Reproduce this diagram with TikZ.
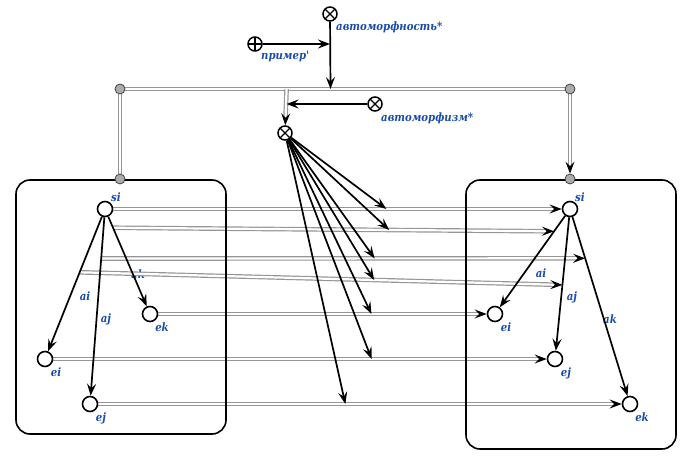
\documentclass[tikz,border=0pt]{standalone}
\usepackage{fontspec}
\setmainfont{DejaVu Serif}
\newfontfamily\lblfont[FakeStretch=0.88]{DejaVu Serif}
\usetikzlibrary{arrows.meta,calc}
\definecolor{lblue}{RGB}{25,75,170}
\definecolor{dgray}{RGB}{150,150,150}
\pgfdeclarelayer{bg}
\pgfdeclarelayer{mid}
\pgfsetlayers{bg,mid,main}
\begin{document}
\begin{tikzpicture}[x=1pt,y=-1pt,
 vert/.style={circle,draw,line width=1.6pt,fill=white,minimum size=15pt,inner sep=0pt},
 opx/.style={circle,draw,line width=1.5pt,fill=white,minimum size=14pt,inner sep=0pt,
   path picture={\draw[line width=1.4pt] (path picture bounding box.south west)--(path picture bounding box.north east)
     (path picture bounding box.north west)--(path picture bounding box.south east);}},
 opp/.style={circle,draw,line width=1.5pt,fill=white,minimum size=14pt,inner sep=0pt,
   path picture={\draw[line width=1.4pt] (path picture bounding box.west)--(path picture bounding box.east)
     (path picture bounding box.north)--(path picture bounding box.south);}},
 gdot/.style={circle,fill=gray!65,draw=gray!50!black,line width=0.8pt,minimum size=10pt,inner sep=0pt},
 boxe/.style={draw,line width=1.6pt,rounded corners=14pt},
 arr/.style={draw,line width=1.7pt,-{Stealth[length=12pt,width=9pt,inset=4.5pt]}},
 dbl/.style={draw=dgray,line width=1.2pt,double=white,double distance=2.2pt},
 dbla/.style={dbl,-{Stealth[length=12pt,width=9pt,inset=4.5pt,color=black]}},
 lbl/.style={text=lblue,font=\lblfont\fontsize{11.5}{13}\selectfont\bfseries\itshape,inner sep=0pt}]
\useasboundingbox (0,0) rectangle (691,465);

% operator nodes
\node[opx] (t) at (330,14) {};
\node[lbl,anchor=west] (tl) at (336,27) {автоморфность*};
\node[opp] (p) at (255,44) {};
\node[lbl,anchor=west] (pl) at (261,57) {пример'};
\node[opx] (r) at (375,104) {};
\node[lbl,anchor=west] (rl) at (381,118) {автоморфизм*};
\node[opx] (c) at (285,133) {};

% dots
\node[gdot] (dL) at (120,89) {};
\node[gdot] (dR) at (570,89) {};
\node[gdot] (dL2) at (120,179) {};
\node[gdot] (dR2) at (570,179) {};

% vertices
\node[vert] (sL) at (105,209) {};
\node[vert] (kL) at (150,314) {};
\node[vert] (iL) at (45,359) {};
\node[vert] (jL) at (90,404) {};
\node[vert] (sR) at (570,209) {};
\node[vert] (iR) at (495,314) {};
\node[vert] (jR) at (555,359) {};
\node[vert] (kR) at (630,404) {};

\node[lbl] (sLl) at (116,197) {si};
\node[lbl] (kLl) at (162,327) {ek};
\node[lbl] (iLl) at (56,372) {ei};
\node[lbl] (jLl) at (101,418) {ej};
\node[lbl] (sRl) at (580,197) {si};
\node[lbl] (iRl) at (506,327) {ei};
\node[lbl] (jRl) at (566,373) {ej};
\node[lbl] (kRl) at (642,417) {ek};

% inner edges
\draw[arr] (sL) -- (iL);
\draw[arr] (sL) -- (jL);
\draw[arr] (sL) -- (kL);
\draw[arr] (sR) -- (iR);
\draw[arr] (sR) -- (jR);
\draw[arr] (sR) -- (kR);

% points on edges
\path (sL) -- (kL) coordinate[pos=0.124] (a2);
\path (sR) -- (iR) coordinate[pos=0.17] (b2);
\path (sL) -- (jL) coordinate[pos=0.231] (a3);
\path (sR) -- (kR) coordinate[pos=0.231] (b3);
\path (sL) -- (iL) coordinate[pos=0.413] (a4);
\path (sR) -- (jR) coordinate[pos=0.507] (b4);

\begin{pgfonlayer}{bg}
\node[lbl] (lai) at (85,296) {ai};
\node[lbl] (laj) at (106,319) {aj};
\node[lbl] (lak) at (138,274) {ak};
\node[lbl] (rai) at (541,273) {ai};
\node[lbl] (raj) at (572,297) {aj};
\node[lbl] (rak) at (610,319) {ak};
\draw[dbl] (dL) -- (dR) coordinate[pos=0.367] (jn) coordinate[pos=0.467] (tn);
\draw[dbl] (dL) -- (dL2);
\draw[dbla] (dR) -- (dR2);
\draw[dbla] (jn) -- (c);
\draw[dbla] (sL) -- (sR) coordinate[pos=0.609] (m1);
\draw[dbla] (a2) -- (b2) coordinate[pos=0.626] (m2);
\draw[dbla] (a3) -- (b3) coordinate[pos=0.565] (m3);
\draw[dbla] (a4) -- (b4) coordinate[pos=0.61] (m4);
\draw[dbla] (kL) -- (iR) coordinate[pos=0.649] (m5);
\draw[dbla] (iL) -- (jR) coordinate[pos=0.645] (m6);
\draw[dbla] (jL) -- (kR) coordinate[pos=0.472] (m7);
\end{pgfonlayer}

\begin{pgfonlayer}{mid}
\draw[boxe] (16,180) rectangle (226,434);
\draw[boxe] (466,180) rectangle (676,449);
\end{pgfonlayer}

% top arrows
\draw[arr] (t) -- (tn);
\draw[arr] (p) -- (t |- p);
\draw[arr] (r) -- (jn |- r);

% center arrows
\foreach \m in {m1,m2,m3,m4,m5,m6,m7} \draw[arr] (c) -- (\m);
\end{tikzpicture}
\end{document}
